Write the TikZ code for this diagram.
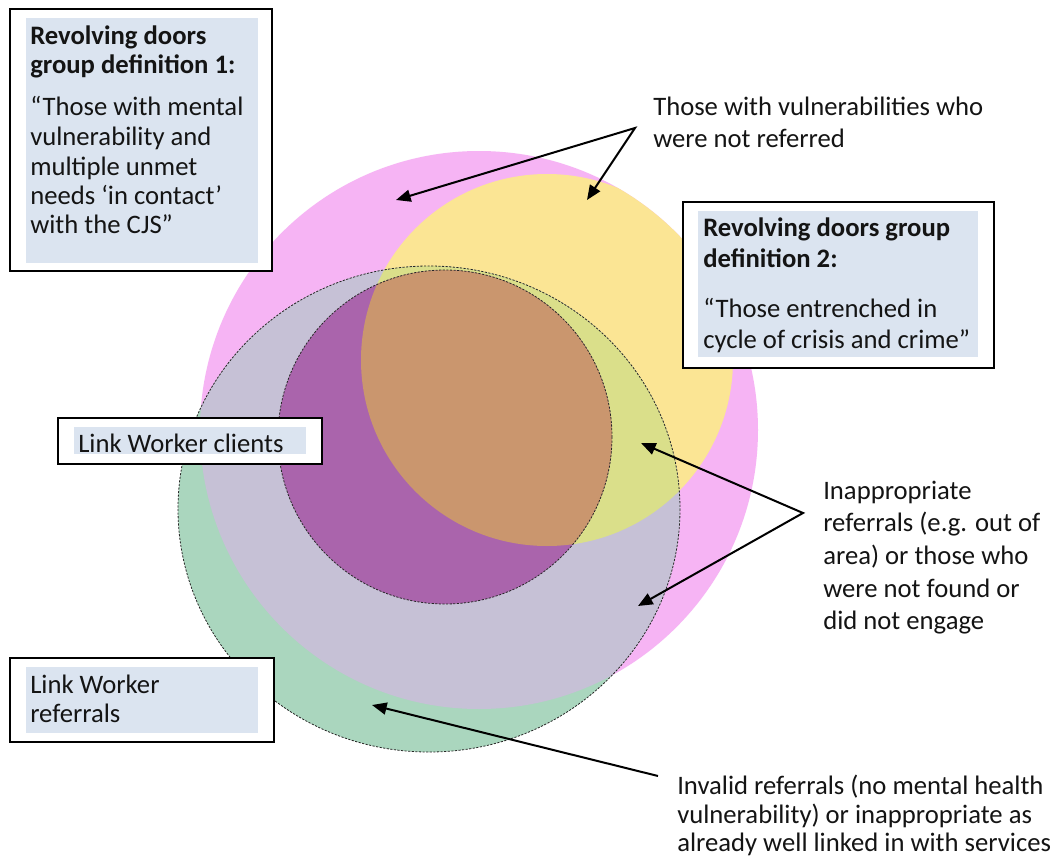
\documentclass[tikz,border=0pt]{standalone}
\usepackage{fontspec}
\setmainfont{Carlito}
\usetikzlibrary{arrows.meta}

\definecolor{magOnly}{RGB}{246,180,244}
\definecolor{yelMag}{RGB}{251,229,148}
\definecolor{grnOnly}{RGB}{170,214,190}
\definecolor{grnMag}{RGB}{198,193,214}
\definecolor{yelGrn}{RGB}{218,223,138}
\definecolor{purpFill}{RGB}{170,100,172}
\definecolor{orngFill}{RGB}{202,150,110}
\definecolor{labelBlue}{RGB}{219,228,240}
\definecolor{inkText}{RGB}{20,20,20}

\begin{document}
\begin{tikzpicture}[x=0.75pt,y=-0.75pt,
  txt/.style={anchor=base west,inner sep=0pt,text=inkText,
              font=\fontsize{20pt}{24pt}\selectfont},
  btxt/.style={txt,font=\fontsize{20pt}{24pt}\selectfont\bfseries},
  outerbox/.style={draw=black,line width=1.7pt,fill=white},
  innerbox/.style={fill=labelBlue},
  setedge/.style={draw=black!85,line width=0.6pt,dash pattern=on 1.6pt off 1.1pt},
  pointer/.style={draw=black,line width=1.5pt,
                  -{Triangle[length=11pt,width=9pt]}},
  pointer2/.style={draw=black,line width=1.5pt,line join=miter,
                  {Triangle[length=11pt,width=9pt]}-{Triangle[length=11pt,width=9pt]}}]

\useasboundingbox (0,0) rectangle (1058,857);
\fill[white] (0,0) rectangle (1058,857);

% ---- overlapping sets ----
% mental vulnerability (magenta)
\fill[magOnly] (479,430) circle[radius=279];
% entrenched cycle (yellow), kept inside the magenta set
\begin{scope}
  \clip (479,430) circle[radius=279];
  \fill[yelMag] (547,360) circle[radius=186];
\end{scope}
% referrals (green)
\fill[grnOnly] (429,509) ellipse[x radius=251,y radius=243];
\begin{scope}
  \clip (429,509) ellipse[x radius=251,y radius=243];
  \fill[grnMag] (479,430) circle[radius=279];
  \fill[yelGrn] (547,360) circle[radius=186];
\end{scope}
% clients (purple)
\fill[purpFill] (445,437) circle[radius=167];
\begin{scope}
  \clip (445,437) circle[radius=167];
  \fill[orngFill] (547,360) circle[radius=186];
\end{scope}
\draw[setedge] (429,509) ellipse[x radius=251,y radius=243];
\draw[setedge] (445,437) circle[radius=167];

% ---- label boxes ----
\draw[outerbox] (10,9) rectangle (272,271);
\fill[innerbox] (26,18) rectangle (258,263);
\node[btxt] (d1a) at (30,44) {Revolving doors};
\node[btxt] (d1b) at (30,73) {group definition 1:};
\node[txt] (d1c) at (30,115) {“Those with mental};
\node[txt] (d1d) at (30,145) {vulnerability and};
\node[txt] (d1e) at (30,175) {multiple unmet};
\node[txt] (d1f) at (30,204) {needs ‘in contact’};
\node[txt] (d1g) at (30,233) {with the CJS”};

\draw[outerbox] (683,202) rectangle (994,368);
\fill[innerbox] (698,211) rectangle (978,357);
\node[btxt] (d2a) at (703,236) {Revolving doors group};
\node[btxt] (d2b) at (703,267) {definition 2:};
\node[txt] (d2c) at (703,317) {“Those entrenched in};
\node[txt] (d2d) at (703,348) {cycle of crisis and crime”};

\draw[outerbox] (58,418) rectangle (322,464);
\fill[innerbox] (74,427) rectangle (306,454);
\node[txt] (lwc) at (78,452) {Link Worker clients};

\draw[outerbox] (10,658) rectangle (274,742);
\fill[innerbox] (26,667) rectangle (258,733);
\node[txt] (lwr1) at (30,693) {Link Worker};
\node[txt] (lwr2) at (30,722) {referrals};

% ---- free annotations ----
\node[txt] (nr1) at (653,115) {Those with vulnerabilities who};
\node[txt] (nr2) at (653,147) {were not referred};

\node[txt] (ia1) at (823,499) {Inappropriate};
\node[txt] (ia2) at (823,531) {referrals (e.g. out of};
\node[txt] (ia3) at (823,564) {area) or those who};
\node[txt] (ia4) at (823,597) {were not found or};
\node[txt] (ia5) at (823,629) {did not engage};

\node[txt] (iv1) at (677,794) {Invalid referrals (no mental health};
\node[txt] (iv2) at (677,823) {vulnerability) or inappropriate as};
\node[txt] (iv3) at (677,851) {already well linked in with services};

% ---- pointers ----
\coordinate (nrApex) at (635,128);
\coordinate (nrTipA) at (396,200);
\coordinate (nrTipB) at (587,200);
\coordinate (iaApex) at (803,513);
\coordinate (iaTipA) at (641,443);
\coordinate (iaTipB) at (638,606);
\coordinate (ivStart) at (658,776);
\coordinate (ivTip) at (372,705);

\draw[pointer2] (nrTipA) -- (nrApex) -- (nrTipB);
\draw[pointer2] (iaTipA) -- (iaApex) -- (iaTipB);
\draw[pointer] (ivStart) -- (ivTip);
\end{tikzpicture}
\end{document}
